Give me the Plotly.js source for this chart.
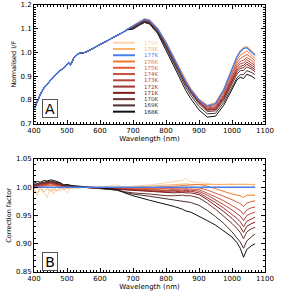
<!DOCTYPE html>
<html><head><meta charset="utf-8">
<script src="https://cdn.plot.ly/plotly-3.0.1.min.js"></script>
<style>html,body{margin:0;padding:0;background:#fff}#c{width:285px;height:295px}</style>
</head><body><div id="c"></div><script>
const temps = ['179K','178K','177K','176K','175K','174K','173K','172K','171K','170K','169K','168K'];
const colors = ['#fdd5ab','#fdb06a','#4a7ee8','#f4772e','#e05a35','#c8503e','#b4443c','#a03232','#7e1c1c','#6b3030','#4a3030','#111111'];

// Panel A: shared part of the spectrum
const waveCommon = [400,410,420,430,440,450,460,470,480,490,500,505,510,515,520,530,540,550,560,580,600,625,650,670,675,680];
const specCommon = [0.76,0.795,0.825,0.85,0.868,0.882,0.898,0.913,0.925,0.933,0.952,0.957,0.947,0.958,0.975,0.99,0.998,0.998,1.003,1.018,1.033,1.05,1.068,1.085,1.089,1.095];
// Panel A: temperature-dependent part
const waveDiv = [700,720,735,750,775,800,825,850,860,875,900,925,950,975,1000,1015,1025,1035,1045,1060,1070];
const spec179 = [1.114,1.133,1.143,1.14,1.105,1.048,0.98,0.911,0.89,0.85,0.804,0.778,0.788,0.846,0.936,0.985,1.009,1.021,1.026,1.006,0.991];
const spec178 = [1.112,1.131,1.141,1.137,1.101,1.044,0.974,0.905,0.881,0.846,0.802,0.777,0.788,0.846,0.935,0.985,1.008,1.021,1.025,1.007,0.993];
const spec177 = [1.112,1.13,1.14,1.135,1.098,1.04,0.97,0.9,0.876,0.842,0.798,0.773,0.784,0.842,0.93,0.98,1.003,1.016,1.02,1.002,0.988];
const spec176 = [1.111,1.129,1.139,1.134,1.098,1.041,0.972,0.903,0.88,0.846,0.802,0.775,0.782,0.835,0.919,0.966,0.988,0.998,1.006,0.988,0.974];
const spec175 = [1.11,1.128,1.137,1.132,1.095,1.037,0.968,0.899,0.874,0.842,0.797,0.769,0.776,0.829,0.91,0.955,0.974,0.981,0.991,0.977,0.964];
const spec174 = [1.109,1.127,1.135,1.13,1.094,1.035,0.966,0.897,0.872,0.839,0.795,0.765,0.771,0.822,0.9,0.944,0.962,0.967,0.979,0.966,0.953];
const spec173 = [1.108,1.125,1.134,1.129,1.092,1.034,0.964,0.896,0.871,0.838,0.792,0.762,0.767,0.816,0.893,0.935,0.952,0.956,0.969,0.956,0.945];
const spec172 = [1.106,1.124,1.133,1.128,1.09,1.032,0.962,0.894,0.869,0.836,0.79,0.759,0.763,0.811,0.885,0.926,0.942,0.945,0.959,0.947,0.936];
const spec171 = [1.105,1.122,1.132,1.126,1.088,1.03,0.96,0.892,0.867,0.834,0.788,0.756,0.759,0.806,0.879,0.918,0.933,0.935,0.95,0.938,0.927];
const spec170 = [1.103,1.12,1.13,1.125,1.087,1.024,0.955,0.887,0.863,0.829,0.783,0.751,0.753,0.799,0.87,0.908,0.923,0.924,0.939,0.929,0.918];
const spec169 = [1.101,1.118,1.128,1.123,1.084,1.019,0.949,0.878,0.853,0.819,0.772,0.741,0.743,0.788,0.857,0.893,0.906,0.906,0.923,0.915,0.906];
const spec168 = [1.098,1.115,1.126,1.12,1.079,1.009,0.937,0.865,0.839,0.805,0.757,0.727,0.731,0.777,0.848,0.884,0.895,0.89,0.908,0.899,0.889];

// Panel B: correction factors
const waveB = [400,410,420,430,440,450,460,470,480,490,500,515,530,550,575,600,650,675,700,750,800,825,850,860,875,900,925,950,975,1000,1015,1025,1035,1045,1060,1070];
const corr179 = [0.993,0.985,1.003,0.99,0.982,1.0,0.988,1.005,0.993,0.998,0.99,1.002,0.997,1.0,1.001,1.0,1.004,1.0,1.002,1.004,1.008,1.01,1.012,1.016,1.01,1.008,1.006,1.005,1.005,1.006,1.005,1.006,1.005,1.006,1.004,1.003];
const corr178 = [0.995,0.99,0.997,0.992,0.998,0.993,0.997,0.994,0.999,0.996,0.998,0.999,1.0,1.0,1.0,1.0,1.001,1.0,1.0,1.002,1.004,1.004,1.005,1.006,1.005,1.005,1.005,1.005,1.005,1.005,1.005,1.005,1.005,1.005,1.005,1.005];
const corr177 = [1,1,1,1,1,1,1,1,1,1,1,1,1,1,1,1,1,1,1,1,1,1,1,1,1,1,1,1,1,1,1,1,1,1,1,1];
const corr176 = [0.998,1.0,1.001,1.002,1.003,1.003,1.003,1.002,1.001,1.0,1.0,1.0,1.0,1.0,0.999,0.999,0.999,0.999,0.999,0.999,1.001,1.002,1.003,1.004,1.005,1.005,1.002,0.997,0.992,0.988,0.986,0.985,0.982,0.986,0.986,0.986];
const corr175 = [0.999,1.001,1.002,1.003,1.004,1.004,1.004,1.003,1.002,1.001,1.0,1.0,1.0,1.0,0.999,0.999,0.998,0.998,0.998,0.997,0.997,0.998,0.999,0.998,1.0,0.999,0.995,0.99,0.984,0.978,0.974,0.971,0.966,0.972,0.975,0.976];
const corr174 = [1.0,1.002,1.003,1.004,1.005,1.006,1.005,1.004,1.003,1.001,1.001,1.0,1.0,1.0,0.999,0.999,0.998,0.997,0.997,0.996,0.995,0.996,0.997,0.996,0.997,0.996,0.99,0.983,0.976,0.968,0.963,0.959,0.952,0.96,0.964,0.965];
const corr173 = [1.001,1.003,1.004,1.005,1.006,1.007,1.006,1.005,1.004,1.002,1.001,1.001,1.0,1.0,0.999,0.999,0.997,0.997,0.996,0.995,0.994,0.994,0.995,0.994,0.995,0.993,0.986,0.978,0.969,0.96,0.954,0.949,0.941,0.95,0.954,0.956];
const corr172 = [1.002,1.004,1.005,1.006,1.007,1.008,1.007,1.006,1.004,1.002,1.002,1.001,1.0,1.0,0.999,0.999,0.997,0.996,0.995,0.994,0.992,0.992,0.993,0.992,0.993,0.99,0.982,0.973,0.963,0.952,0.945,0.939,0.93,0.94,0.945,0.947];
const corr171 = [1.003,1.005,1.006,1.007,1.008,1.009,1.008,1.007,1.005,1.003,1.002,1.001,1.0,1.0,0.999,0.998,0.996,0.995,0.994,0.992,0.99,0.99,0.991,0.99,0.99,0.987,0.978,0.968,0.957,0.945,0.937,0.93,0.92,0.931,0.936,0.938];
const corr170 = [1.004,1.006,1.007,1.008,1.009,1.01,1.009,1.008,1.006,1.003,1.003,1.002,1.001,1.0,0.999,0.998,0.995,0.992,0.99,0.988,0.985,0.985,0.986,0.985,0.985,0.981,0.972,0.961,0.949,0.936,0.927,0.92,0.909,0.921,0.927,0.929];
const corr169 = [1.005,1.007,1.008,1.009,1.01,1.011,1.01,1.009,1.007,1.004,1.004,1.002,1.001,1.0,0.999,0.998,0.995,0.991,0.988,0.984,0.98,0.978,0.976,0.974,0.973,0.968,0.959,0.948,0.936,0.921,0.911,0.903,0.892,0.905,0.913,0.917];
const corr168 = [1.007,1.01,1.009,1.012,1.011,1.013,1.012,1.01,1.008,1.004,1.005,1.003,1.002,1.001,1.0,0.999,0.996,0.99,0.985,0.977,0.97,0.966,0.961,0.958,0.956,0.949,0.941,0.933,0.923,0.912,0.902,0.892,0.876,0.89,0.897,0.9];

const specs = [spec179,spec178,spec177,spec176,spec175,spec174,spec173,spec172,spec171,spec170,spec169,spec168];
const corrs = [corr179,corr178,corr177,corr176,corr175,corr174,corr173,corr172,corr171,corr170,corr169,corr168];

// draw order: all except 177K, then 177K (blue) on top
const order = [0,1,3,4,5,6,7,8,9,10,11,2];
const traces = [];
order.forEach(i => {
  traces.push({x: waveCommon.concat(waveDiv), y: specCommon.concat(specs[i]), type:'scatter', mode:'lines',
    line:{color:colors[i], width: i===2?1.4:1}, xaxis:'x', yaxis:'y', showlegend:false, hoverinfo:'skip'});
});
order.forEach(i => {
  traces.push({x: waveB, y: corrs[i], type:'scatter', mode:'lines',
    line:{color:colors[i], width: i===2?1.4:1}, xaxis:'x2', yaxis:'y2', showlegend:false, hoverinfo:'skip'});
});

// pixel -> paper helpers (plot area: x 34..265, y 5..272)
const L = 34, R = 265, T = 5, B = 272;
const px = v => (v - L) / (R - L);
const py = v => (B - v) / (B - T);

const shapes = [], annotations = [];
temps.forEach((t, i) => {
  const yy = py(42.7 + i * 6.27);
  shapes.push({type:'line', xref:'paper', yref:'paper', x0:px(113), x1:px(135), y0:yy, y1:yy,
    line:{color:colors[i], width:2}});
  annotations.push({xref:'paper', yref:'paper', x:px(142), y:yy, xanchor:'left', yanchor:'middle',
    text:t, showarrow:false, font:{size:5.5, color:colors[i], family:'DejaVu Sans'}});
});
['A','B'].forEach((lab, k) => {
  annotations.push({xref:'paper', yref:'paper', x:px(50), y:py(k===0?109:261), xanchor:'center', yanchor:'middle',
    text:lab, showarrow:false, font:{size:14, color:'#000', family:'DejaVu Sans'},
    bordercolor:'#555', borderwidth:1, borderpad:1, width:12, height:15});
});

const axFont = {family:'DejaVu Sans', size:7, color:'#000'};
const xBase = {range:[400,1100], dtick:100, ticks:'inside', ticklen:4, tickwidth:1, tickcolor:'#000',
  showline:true, linecolor:'#000', linewidth:1, mirror:'allticks', showgrid:false, zeroline:false,
  tickfont:axFont, minor:{dtick:10, ticks:'inside', ticklen:2, tickcolor:'#000', showgrid:false}};
const layout = {
  width:285, height:295, margin:{l:L, r:285-R, t:T, b:295-B}, paper_bgcolor:'#fff', plot_bgcolor:'#fff',
  showlegend:false, font:axFont,
  xaxis: Object.assign({}, xBase, {anchor:'y', domain:[0,1], title:{text:'Wavelength (nm)', font:axFont, standoff:1}}),
  xaxis2: Object.assign({}, xBase, {anchor:'y2', domain:[0,1], title:{text:'Wavelength (nm)', font:axFont, standoff:1}}),
  yaxis: {anchor:'x', domain:[py(123.5),1], range:[0.7,1.2], dtick:0.1, tickformat:'.1f', ticks:'inside', ticklen:4,
    tickcolor:'#000', showline:true, linecolor:'#000', linewidth:1, mirror:'allticks', showgrid:false, zeroline:false,
    tickfont:axFont, minor:{dtick:0.01, ticks:'inside', ticklen:2, tickcolor:'#000', showgrid:false},
    title:{text:'Normalised I/F', font:{family:'DejaVu Sans', size:6.5, color:'#000'}, standoff:3}},
  yaxis2: {anchor:'x2', domain:[0,py(159)], range:[0.85,1.05], dtick:0.05, tickformat:'.2f', ticks:'inside', ticklen:4,
    tickcolor:'#000', showline:true, linecolor:'#000', linewidth:1, mirror:'allticks', showgrid:false, zeroline:false,
    tickfont:axFont, minor:{dtick:0.01, ticks:'inside', ticklen:2, tickcolor:'#000', showgrid:false},
    title:{text:'Correction factor', font:{family:'DejaVu Sans', size:6.5, color:'#000'}, standoff:3}},
  shapes: shapes, annotations: annotations
};
Plotly.newPlot('c', traces, layout, {staticPlot:true, displayModeBar:false});
</script></body></html>
